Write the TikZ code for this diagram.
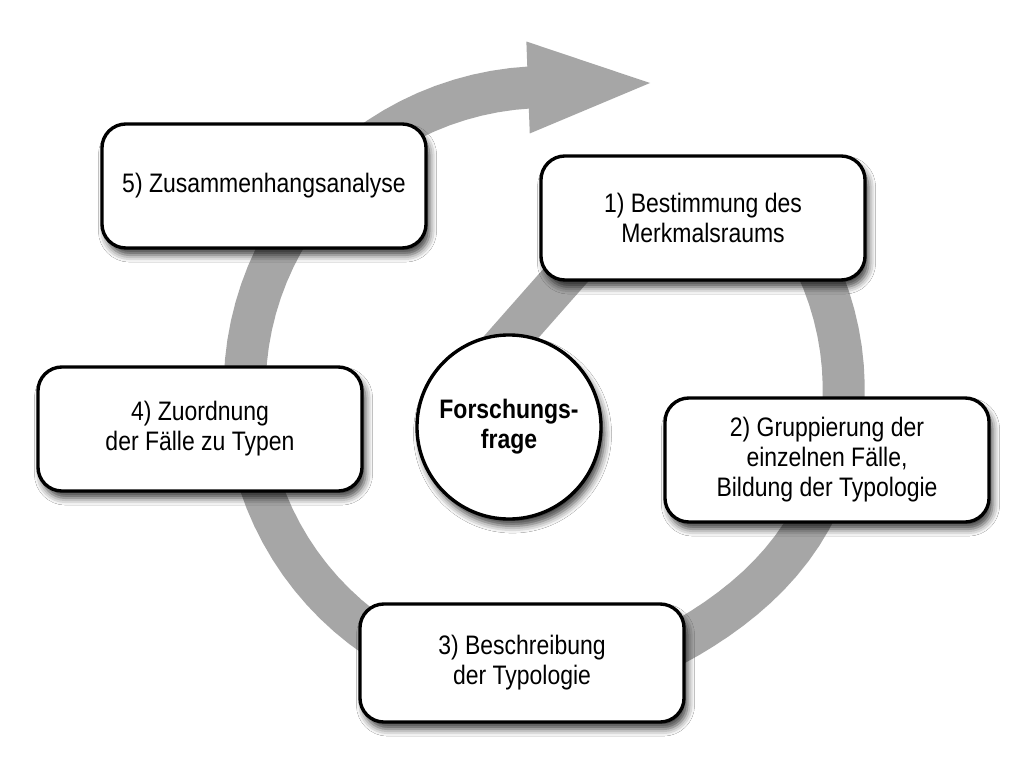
\documentclass[tikz,border=0pt]{standalone}
\usepackage{fontspec}
\setmainfont{Liberation Sans}[FakeStretch=0.86]
\usetikzlibrary{positioning,arrows.meta,shadows.blur}
\definecolor{bandgray}{RGB}{166,166,166}

\begin{document}
\begin{tikzpicture}[x=0.025cm,y=-0.025cm,
  font=\fontsize{19}{21.3}\selectfont,
  declare function={bandr(\t)=298+5*\t/267-14*exp(-((\t-60)/30)*((\t-60)/30));},
  boxshadow/.style={blur shadow={shadow xshift=2.5pt,shadow yshift=-5pt,shadow blur radius=5pt,shadow opacity=75}},
  stepbox/.style={draw,line width=2.4pt,rounded corners=0.6cm,fill=white,minimum width=8.1cm,minimum height=3.1cm,align=center,boxshadow},
  question/.style={draw,circle,line width=2.4pt,fill=white,minimum size=4.6cm,align=center,font=\fontsize{19}{21.3}\selectfont\bfseries,boxshadow}]
\fill[white] (0,0) rectangle (1024,773);
\useasboundingbox (0,0) rectangle (1024,773);
\coordinate (start) at (460,395);
\coordinate (tip) at (650,83);
% spiral band, behind the boxes
\draw[bandgray,line width=1.05cm,-{Triangle[length=3.05cm,width=2.3cm,line width=0pt]}]
  (start) -- (573,267) .. controls (630,198) and (740,144) .. (790,219)
  -- plot[domain=-35:267,samples=90,variable=\t] ({546+bandr(\t)*cos(\t)},{390+bandr(\t)*sin(\t)})
  -- (tip);
\node[question] (q) at (509,427) {Forschungs-\\frage};
\node[stepbox] (1) at (703,218) {1) Bestimmung des\\Merkmalsraums};
\node[stepbox] (2) at (827,460) {2) Gruppierung der\\einzelnen Fälle,\\Bildung der Typologie};
\node[stepbox,minimum height=2.95cm] (3) at (522,663) {3) Beschreibung\\der Typologie};
\node[stepbox] (4) at (200,429) {4) Zuordnung\\der Fälle zu Typen};
\node[stepbox] (5) at (264,186) {5) Zusammenhangsanalyse};
\end{tikzpicture}
\end{document}
